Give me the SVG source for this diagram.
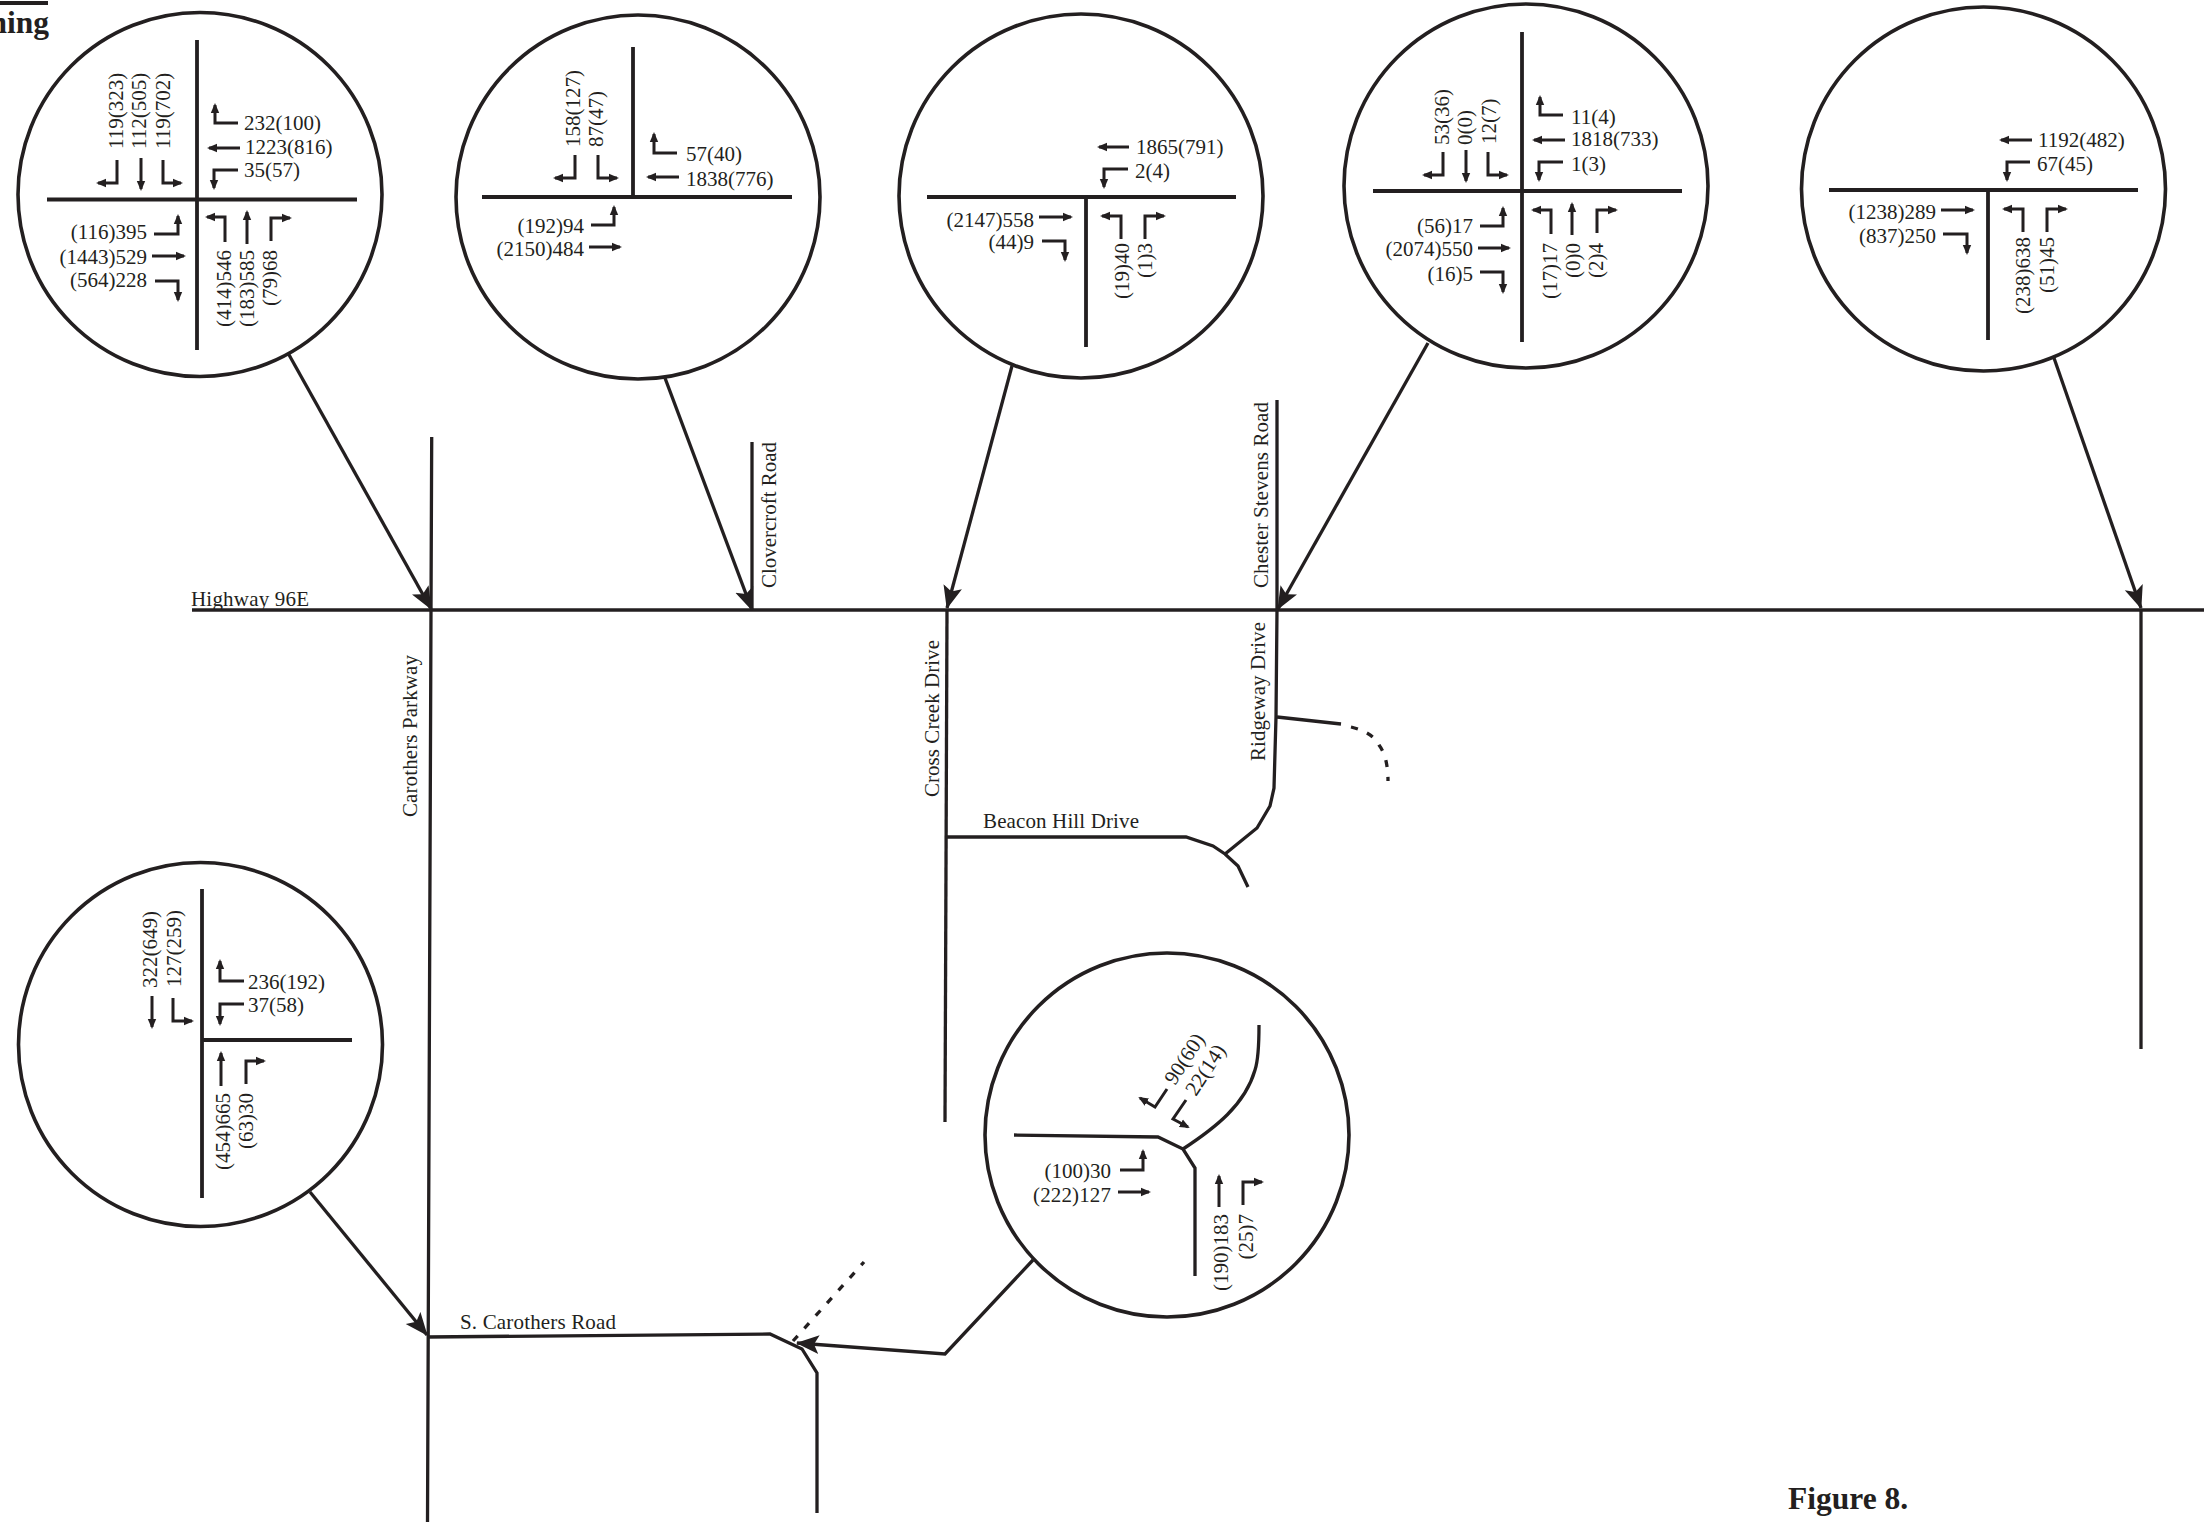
<svg xmlns="http://www.w3.org/2000/svg" width="2204" height="1522" viewBox="0 0 2204 1522">
<style>
text{font-family:"Liberation Serif","Times New Roman",serif;font-size:21px;fill:#231f20}
.e{text-anchor:end}
.b{font-weight:bold;font-size:31.5px}
.c{fill:#fff;stroke:#231f20;stroke-width:3.6}
.r{fill:none;stroke:#231f20;stroke-width:3.8}
.m{fill:none;stroke:#231f20;stroke-width:3.3;stroke-linejoin:miter}
.d{fill:none;stroke:#231f20;stroke-width:3.3;stroke-dasharray:7 10}
.a{fill:none;stroke:#231f20;stroke-width:3;marker-end:url(#h)}
.l{fill:none;stroke:#231f20;stroke-width:3.3;marker-end:url(#H)}
</style>
<defs>
<marker id="h" markerUnits="userSpaceOnUse" markerWidth="11" markerHeight="10" refX="8" refY="5" orient="auto"><polygon points="0,0.8 10,5 0,9.2" fill="#231f20"/></marker>
<marker id="H" markerUnits="userSpaceOnUse" markerWidth="24" markerHeight="20" refX="22" refY="10" orient="auto"><polygon points="0,0.5 23,10 0,19.5 5,10" fill="#231f20"/></marker>
</defs>
<rect width="2204" height="1522" fill="#fff"/>
<g id="header">
<rect x="0" y="1" width="48" height="4" fill="#231f20"/>
<text class="b e" x="49" y="33">ning</text>
</g>
<g id="connectors">
<path class="m" d="M192 610H2204"/>
<path class="m" d="M431.7 437L431 610L427.5 1522"/>
<path class="m" d="M752 442V610"/>
<path class="m" d="M947 610L945 1122"/>
<path class="m" d="M1277 400V610L1276 717L1274 788L1270 806L1257 828L1225 854"/>
<path class="m" d="M1277 717L1341 724"/>
<path class="d" d="M1351 727Q1372 732 1379 745Q1388 757 1388 781"/>
<path class="m" d="M946 837H1186L1213 846L1225 854L1238 866L1248 887"/>
<path class="m" d="M2141 610V1049"/>
<path class="m" d="M427 1337L770 1334L802 1349L817 1373V1513"/>
<path class="d" d="M793 1341L864 1262"/>
<path class="l" d="M288 353L431 609"/>
<path class="l" d="M665 378L752 610"/>
<path class="l" d="M1012 366L947 608"/>
<path class="l" d="M1428 343L1278 609"/>
<path class="l" d="M2054 358L2141 608"/>
<path class="l" d="M310 1192L427 1335"/>
<path class="l" d="M1033 1260L945 1354L797 1343"/>
</g>
<g id="road-labels">
<text x="191" y="606" textLength="118">Highway 96E</text>
<text transform="translate(776 588) rotate(-90)" textLength="146">Clovercroft Road</text>
<text transform="translate(417 817) rotate(-90)" textLength="162">Carothers Parkway</text>
<text transform="translate(939 797) rotate(-90)" textLength="157">Cross Creek Drive</text>
<text transform="translate(1268 588) rotate(-90)" textLength="186">Chester Stevens Road</text>
<text transform="translate(1265 761) rotate(-90)" textLength="139">Ridgeway Drive</text>
<text x="983" y="828" textLength="156">Beacon Hill Drive</text>
<text x="460" y="1329" textLength="156">S. Carothers Road</text>
</g>
<g id="node-1">
<circle class="c" cx="200" cy="194.5" r="182"/>
<path class="r" d="M197 40V350M47 199.5H357"/>
<text transform="translate(123 149) rotate(-90)">119(323)</text>
<text transform="translate(146 149) rotate(-90)">112(505)</text>
<text transform="translate(170 149) rotate(-90)">119(702)</text>
<path class="a" d="M117 160V183H98"/><path class="a" d="M141 158V189"/><path class="a" d="M163 160V183H181"/>
<text x="244" y="130">232(100)</text><path class="a" d="M238 123H215V105"/>
<text x="245" y="154">1223(816)</text><path class="a" d="M240 148H209"/>
<text x="244" y="177">35(57)</text><path class="a" d="M238 170H214V188"/>
<text class="e" x="147" y="239">(116)395</text><path class="a" d="M154 234H178V216"/>
<text class="e" x="147" y="264">(1443)529</text><path class="a" d="M152 256H184"/>
<text class="e" x="147" y="287">(564)228</text><path class="a" d="M155 281H178V300"/>
<text class="e" transform="translate(231 250) rotate(-90)">(414)546</text>
<text class="e" transform="translate(254 250) rotate(-90)">(183)585</text>
<text class="e" transform="translate(277 250) rotate(-90)">(79)68</text>
<path class="a" d="M225 242V217H207"/><path class="a" d="M247 244V212"/><path class="a" d="M271 241V218H290"/>
</g>
<g id="node-2">
<circle class="c" cx="638" cy="197" r="182"/>
<path class="r" d="M633 47V197M482 197H792"/>
<text transform="translate(580 147) rotate(-90)">158(127)</text>
<text transform="translate(603 147) rotate(-90)">87(47)</text>
<path class="a" d="M575 155V178H555"/><path class="a" d="M598 155V178H617"/>
<text x="686" y="161">57(40)</text><path class="a" d="M677 153H654V134"/>
<text x="686" y="186">1838(776)</text><path class="a" d="M679 177H648"/>
<text class="e" x="584" y="233">(192)94</text><path class="a" d="M591 225H614V207"/>
<text class="e" x="584" y="256">(2150)484</text><path class="a" d="M589 247H620"/>
</g>
<g id="node-3">
<circle class="c" cx="1081" cy="196" r="182"/>
<path class="r" d="M927 197H1236M1086 197V347"/>
<text x="1136" y="154">1865(791)</text><path class="a" d="M1129 147H1099"/>
<text x="1135" y="178">2(4)</text><path class="a" d="M1128 169H1104V187"/>
<text class="e" x="1034" y="227">(2147)558</text><path class="a" d="M1039 217H1071"/>
<text class="e" x="1034" y="249">(44)9</text><path class="a" d="M1042 241H1065V260"/>
<text class="e" transform="translate(1129 243) rotate(-90)">(19)40</text>
<text class="e" transform="translate(1152 243) rotate(-90)">(1)3</text>
<path class="a" d="M1121 239V216H1102"/><path class="a" d="M1145 239V216H1164"/>
</g>
<g id="node-4">
<circle class="c" cx="1526" cy="186" r="182"/>
<path class="r" d="M1522 32V342M1373 191H1682"/>
<text transform="translate(1449 145) rotate(-90)">53(36)</text>
<text transform="translate(1472 145) rotate(-90)">0(0)</text>
<text transform="translate(1496 144) rotate(-90)">12(7)</text>
<path class="a" d="M1443 152V175H1424"/><path class="a" d="M1466 150V181"/><path class="a" d="M1488 152V175H1507"/>
<text x="1571" y="124">11(4)</text><path class="a" d="M1563 115H1540V97"/>
<text x="1571" y="146">1818(733)</text><path class="a" d="M1565 140H1534"/>
<text x="1571" y="171">1(3)</text><path class="a" d="M1563 162H1539V180"/>
<text class="e" x="1473" y="233">(56)17</text><path class="a" d="M1480 226H1503V208"/>
<text class="e" x="1473" y="256">(2074)550</text><path class="a" d="M1478 248H1509"/>
<text class="e" x="1473" y="281">(16)5</text><path class="a" d="M1480 272H1503V292"/>
<text class="e" transform="translate(1557 243) rotate(-90)">(17)17</text>
<text class="e" transform="translate(1580 243) rotate(-90)">(0)0</text>
<text class="e" transform="translate(1603 243) rotate(-90)">(2)4</text>
<path class="a" d="M1551 234V210H1533"/><path class="a" d="M1572 235V204"/><path class="a" d="M1597 233V210H1616"/>
</g>
<g id="node-5">
<circle class="c" cx="1983.5" cy="189" r="182"/>
<path class="r" d="M1829 190H2138M1988 190V340"/>
<text x="2038" y="147">1192(482)</text><path class="a" d="M2032 140H2001"/>
<text x="2037" y="171">67(45)</text><path class="a" d="M2030 162H2007V180"/>
<text class="e" x="1936" y="219">(1238)289</text><path class="a" d="M1941 210H1973"/>
<text class="e" x="1936" y="243">(837)250</text><path class="a" d="M1943 234H1967V253"/>
<text class="e" transform="translate(2030 237) rotate(-90)">(238)638</text>
<text class="e" transform="translate(2054 237) rotate(-90)">(51)45</text>
<path class="a" d="M2023 232V209H2004"/><path class="a" d="M2047 232V209H2066"/>
</g>
<g id="node-6">
<circle class="c" cx="200.5" cy="1044.5" r="182"/>
<path class="r" d="M202 889V1198M202 1040H352"/>
<text transform="translate(157 988) rotate(-90)">322(649)</text>
<text transform="translate(181 987) rotate(-90)">127(259)</text>
<path class="a" d="M152 996V1027"/><path class="a" d="M173 998V1021H192"/>
<text x="248" y="989">236(192)</text><path class="a" d="M244 981H220V961"/>
<text x="248" y="1012">37(58)</text><path class="a" d="M244 1004H220V1024"/>
<text class="e" transform="translate(230 1093) rotate(-90)">(454)665</text>
<text class="e" transform="translate(253 1093) rotate(-90)">(63)30</text>
<path class="a" d="M221 1086V1053"/><path class="a" d="M246 1084V1061H264"/>
</g>
<g id="node-7">
<circle class="c" cx="1167" cy="1135" r="182"/>
<path class="m" d="M1014 1135L1158 1137L1183 1149L1195 1168V1276"/>
<path class="m" d="M1183 1149C1215 1128 1245 1105 1255 1070Q1259 1058 1259 1025"/>
<text transform="translate(1175 1086) rotate(-57)">90(60)</text>
<text transform="translate(1196 1097) rotate(-57)">22(14)</text>
<path class="a" d="M1167 1089L1155 1107L1140 1098"/>
<path class="a" d="M1186 1100L1173 1119L1188 1127"/>
<text class="e" x="1111" y="1178">(100)30</text><path class="a" d="M1120 1170H1143V1151"/>
<text class="e" x="1111" y="1202" textLength="78">(222)127</text><path class="a" d="M1118 1192H1149"/>
<text class="e" transform="translate(1228 1214) rotate(-90)">(190)183</text>
<text class="e" transform="translate(1253 1214) rotate(-90)">(25)7</text>
<path class="a" d="M1219 1207V1176"/><path class="a" d="M1243 1205V1182H1262"/>
</g>
<g id="caption"><text class="b" x="1788" y="1509">Figure 8.</text></g>
</svg>
